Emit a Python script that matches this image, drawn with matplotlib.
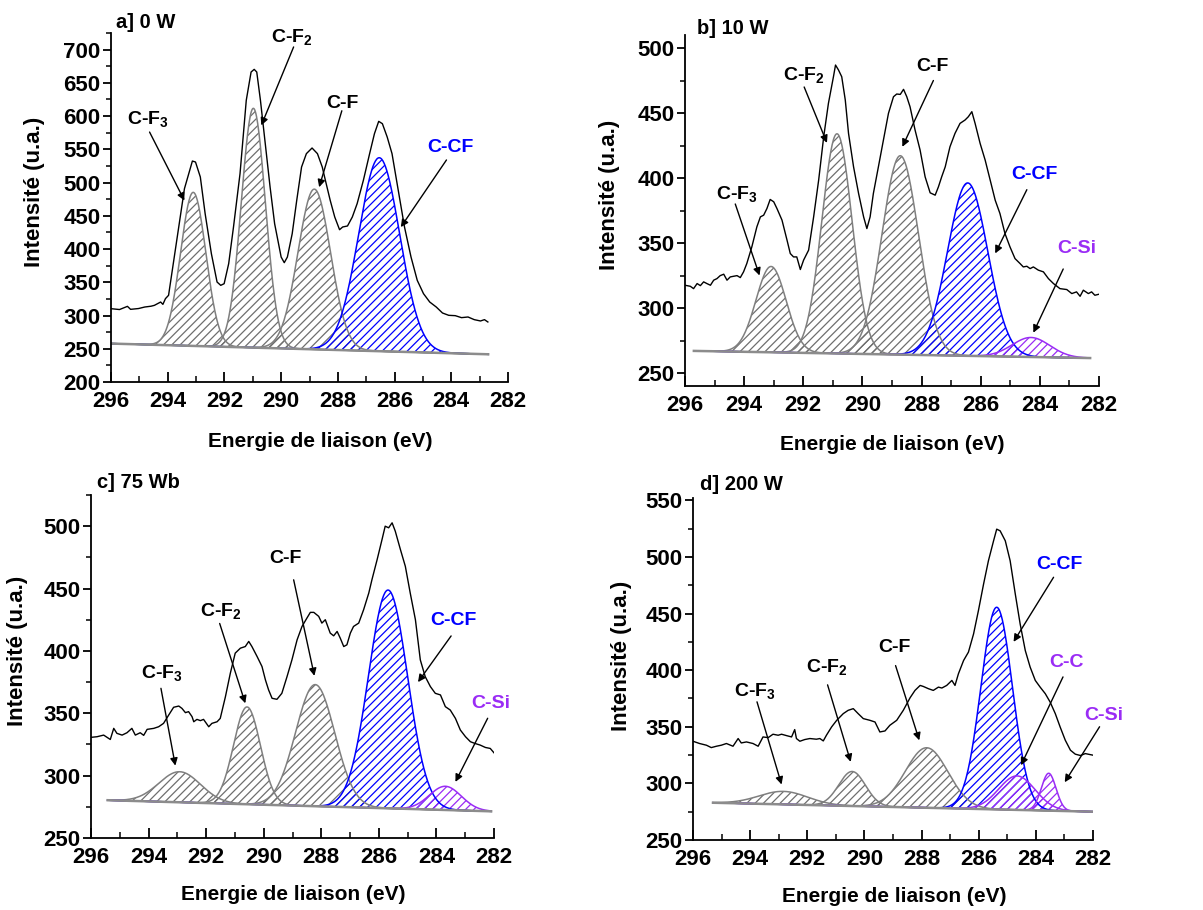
import numpy as np
import matplotlib
matplotlib.use('Agg')
import matplotlib.pyplot as plt
from matplotlib.ticker import MultipleLocator

plt.rcParams['font.family'] = ['Liberation Sans', 'DejaVu Sans']
plt.rcParams['font.weight'] = 'bold'
plt.rcParams['mathtext.fontset'] = 'custom'
plt.rcParams['mathtext.rm'] = 'Liberation Sans:bold'
plt.rcParams['mathtext.bf'] = 'Liberation Sans:bold'
plt.rcParams['mathtext.it'] = 'Liberation Sans:bold'
plt.rcParams['mathtext.default'] = 'rm'
plt.rcParams['hatch.linewidth'] = 0.9

GRAY = '#7f7f7f'
BLUE = '#0000ff'
PURPLE = '#9a2cf5'

# ---------------- a] 0 W ----------------
a_raw_x = [296.00, 295.70, 295.42, 295.31, 295.03, 294.81, 294.59, 294.47, 294.25, 294.17,
           294.08, 293.97, 293.69, 293.41, 293.13, 293.02, 292.85, 292.68, 292.46, 292.26,
           292.13, 292.01, 291.85, 291.68, 291.45, 291.23, 291.06, 290.95, 290.86, 290.73,
           290.56, 290.39, 290.23, 290.00, 289.89, 289.78, 289.61, 289.45, 289.28, 289.11,
           288.91, 288.72, 288.55, 288.44, 288.27, 288.11, 287.94, 287.83, 287.66, 287.49,
           287.32, 287.10, 286.88, 286.71, 286.56, 286.43, 286.26, 286.09, 285.87, 285.65,
           285.42, 285.20, 284.98, 284.76, 284.53, 284.31, 284.09, 283.86, 283.64, 283.41,
           283.19, 282.97, 282.83, 282.71]
a_raw_y = [310.3, 309.0, 313.8, 309.3, 310.5, 312.8, 314.0, 315.3, 320.3, 316.8,
           325.4, 330.4, 410.6, 490.8, 532.4, 530.9, 508.4, 453.2, 393.0, 350.4,
           345.4, 347.9, 378.0, 433.2, 513.4, 623.7, 666.3, 670.3, 666.3, 623.7,
           558.5, 493.3, 438.2, 388.0, 379.5, 388.0, 423.1, 473.3, 523.4, 543.5,
           552.0, 543.5, 523.4, 503.4, 473.3, 448.2, 429.1, 433.2, 434.7, 448.2,
           468.3, 503.4, 543.5, 573.5, 592.1, 588.6, 568.5, 543.5, 488.3, 433.2,
           388.0, 352.9, 332.9, 320.3, 312.8, 303.8, 300.3, 299.8, 296.8, 297.8,
           293.8, 291.8, 293.8, 290.3]
a_base = [296.0, 282.7, 257.8, 241.7]   # x_start, x_end, y_start, y_end
a_names = ['C-F$_3$', 'C-F$_2$', 'C-F', 'C-CF']
a_center = [293.10, 290.98, 288.83, 286.54]
a_height = [231, 360, 241, 291]
a_fwhm = [1.05, 1.0, 1.35, 1.7]
a_color = [GRAY, GRAY, GRAY, BLUE]
a_text = [(294.69, 596), (289.61, 719), (287.83, 619), (284.03, 553)]
a_tail = [(294.64, 576), (289.56, 704), (287.86, 608), (284.17, 534)]
a_head = [(293.41, 473), (290.70, 586), (288.66, 493), (285.78, 433)]

# ---------------- b] 10 W ----------------
b_raw_x = [296.00, 295.82, 295.71, 295.59, 295.48, 295.37, 295.26, 295.14, 295.03, 294.92,
           294.81, 294.69, 294.58, 294.47, 294.36, 294.24, 294.13, 294.02, 293.91, 293.74,
           293.57, 293.45, 293.34, 293.23, 293.12, 293.00, 292.89, 292.72, 292.55, 292.44,
           292.33, 292.22, 292.10, 291.99, 291.82, 291.65, 291.48, 291.31, 291.15, 290.98,
           290.91, 290.81, 290.70, 290.58, 290.47, 290.30, 290.13, 289.96, 289.85, 289.74,
           289.63, 289.46, 289.29, 289.12, 288.95, 288.84, 288.72, 288.61, 288.50, 288.39,
           288.22, 288.05, 287.88, 287.71, 287.54, 287.43, 287.32, 287.20, 287.04, 286.87,
           286.70, 286.53, 286.42, 286.30, 286.19, 286.02, 285.85, 285.68, 285.51, 285.35,
           285.18, 285.01, 284.84, 284.67, 284.56, 284.44, 284.33, 284.22, 284.05, 283.88,
           283.71, 283.54, 283.32, 283.09, 282.92, 282.76, 282.64, 282.53, 282.36, 282.25,
           282.14, 282.00]
b_raw_y = [317.5, 316.7, 314.9, 318.8, 317.2, 320.1, 318.8, 317.5, 321.4, 322.6,
           324.9, 326.0, 321.4, 323.9, 324.4, 324.9, 323.4, 327.8, 334.2, 347.0,
           362.4, 370.1, 371.4, 376.5, 383.5, 381.7, 376.5, 367.6, 352.2, 341.9,
           339.3, 339.3, 329.6, 336.8, 344.5, 370.1, 398.4, 431.7, 457.4, 477.9,
           486.9, 483.1, 477.9, 460.0, 434.3, 408.6, 388.1, 370.1, 361.1, 370.1,
           388.1, 408.6, 429.2, 449.7, 462.5, 464.6, 464.3, 468.2, 462.5, 454.8,
           436.9, 421.5, 400.9, 388.6, 386.8, 393.2, 400.9, 408.6, 424.0, 434.3,
           442.0, 444.6, 447.1, 451.0, 442.0, 426.6, 413.8, 398.4, 382.9, 372.7,
           357.3, 347.0, 338.0, 334.2, 331.6, 332.1, 330.3, 331.6, 329.1, 327.8,
           322.6, 318.8, 314.9, 314.2, 311.1, 312.4, 309.0, 313.7, 311.1, 312.4,
           309.8, 310.6]
b_base = [295.7, 282.3, 267.0, 261.5]
b_names = ['C-F$_3$', 'C-F$_2$', 'C-F', 'C-CF', 'C-Si']
b_center = [293.09, 290.86, 288.72, 286.44, 284.30]
b_height = [66, 169, 153, 133, 15]
b_fwhm = [1.2, 1.2, 1.45, 1.6, 1.5]
b_color = [GRAY, GRAY, GRAY, BLUE, PURPLE]
b_text = [(294.24, 388), (291.99, 479), (287.62, 486), (284.20, 403), (282.76, 346)]
b_tail = [(294.30, 380), (291.97, 470), (287.60, 475), (284.44, 391), (283.21, 330)]
b_head = [(293.48, 325), (291.20, 427), (288.65, 424), (285.51, 342), (284.22, 281)]

# ---------------- c] 75 Wb ----------------
c_raw_x = [296.00, 295.79, 295.56, 295.33, 295.21, 295.10, 294.92, 294.75, 294.58, 294.46,
           294.29, 294.17, 294.05, 293.82, 293.65, 293.48, 293.30, 293.13, 292.95, 292.84,
           292.72, 292.61, 292.49, 292.43, 292.32, 292.20, 292.09, 291.91, 291.80, 291.62,
           291.51, 291.33, 291.16, 290.99, 290.81, 290.64, 290.52, 290.41, 290.23, 290.06,
           289.94, 289.83, 289.71, 289.54, 289.37, 289.19, 289.02, 288.84, 288.67, 288.50,
           288.38, 288.26, 288.09, 287.98, 287.86, 287.69, 287.57, 287.45, 287.34, 287.22,
           287.11, 286.99, 286.88, 286.70, 286.53, 286.35, 286.24, 286.06, 285.89, 285.78,
           285.66, 285.54, 285.43, 285.25, 285.08, 284.91, 284.73, 284.56, 284.39, 284.21,
           284.04, 283.86, 283.69, 283.52, 283.34, 283.17, 282.99, 282.82, 282.66, 282.48,
           282.30, 282.13, 282.00]
c_raw_y = [330.7, 331.2, 332.5, 329.0, 337.9, 333.9, 332.5, 334.4, 337.9, 332.5,
           334.4, 332.3, 337.1, 337.9, 339.2, 341.9, 348.6, 354.8, 355.8, 353.9,
           350.5, 351.3, 347.3, 343.2, 345.1, 344.1, 345.1, 339.2, 341.9, 343.2,
           345.9, 363.3, 382.1, 398.2, 402.2, 403.5, 407.6, 403.5, 395.5, 387.5,
           376.7, 368.7, 362.0, 361.2, 366.0, 379.4, 392.8, 408.9, 419.6, 426.3,
           430.9, 430.9, 427.7, 422.3, 425.0, 414.3, 412.1, 415.6, 410.2, 403.5,
           404.9, 414.3, 419.6, 422.3, 433.0, 446.4, 457.1, 473.2, 489.3, 500.0,
           498.7, 502.7, 496.0, 481.2, 467.8, 446.4, 425.0, 392.8, 379.4, 371.4,
           366.0, 364.7, 355.3, 352.6, 345.9, 336.6, 331.2, 327.2, 325.8, 324.5,
           322.6, 321.8, 318.3]
c_base = [295.42, 282.1, 280.3, 271.4]
c_names = ['C-F$_3$', 'C-F$_2$', 'C-F', 'C-CF', 'C-Si']
c_center = [292.92, 290.58, 288.21, 285.68, 283.69]
c_height = [24.5, 78, 97.5, 175, 19]
c_fwhm = [1.7, 1.1, 1.6, 1.6, 1.3]
c_color = [GRAY, GRAY, GRAY, BLUE, PURPLE]
c_text = [(293.53, 382), (291.48, 432), (289.23, 474), (283.40, 424), (282.13, 358)]
c_tail = [(293.57, 370), (291.53, 422), (288.96, 457), (283.49, 412), (282.22, 346)]
c_head = [(293.07, 308), (290.64, 358), (288.24, 380), (284.64, 375), (283.34, 295)]

# ---------------- d] 200 W ----------------
d_raw_x = [296.00, 295.77, 295.53, 295.36, 295.18, 295.01, 294.83, 294.60, 294.42, 294.31,
           294.13, 293.90, 293.72, 293.55, 293.37, 293.20, 293.02, 292.90, 292.73, 292.55,
           292.44, 292.38, 292.26, 292.09, 291.91, 291.68, 291.56, 291.44, 291.33, 291.15,
           290.97, 290.74, 290.57, 290.39, 290.22, 290.04, 289.81, 289.63, 289.46, 289.28,
           289.11, 288.87, 288.64, 288.40, 288.23, 288.05, 287.94, 287.76, 287.59, 287.41,
           287.29, 287.12, 286.94, 286.83, 286.71, 286.53, 286.36, 286.18, 286.01, 285.83,
           285.66, 285.48, 285.37, 285.25, 285.07, 284.90, 284.72, 284.55, 284.37, 284.20,
           284.02, 283.85, 283.67, 283.50, 283.32, 283.15, 282.97, 282.79, 282.62, 282.44,
           282.27, 282.00]
d_raw_y = [337.2, 335.2, 333.7, 331.6, 332.8, 333.7, 335.2, 332.8, 339.6, 335.7,
           336.6, 335.2, 332.8, 341.0, 340.4, 343.4, 342.5, 343.4, 342.2, 341.0,
           347.5, 339.6, 337.2, 338.7, 339.6, 339.0, 339.6, 337.5, 342.5, 349.8,
           355.7, 361.6, 364.5, 366.0, 361.6, 357.2, 355.7, 354.2, 345.4, 346.3,
           351.3, 355.7, 364.5, 375.7, 382.1, 386.5, 385.6, 383.6, 382.1, 385.0,
           384.2, 386.5, 390.9, 386.5, 396.8, 408.5, 415.9, 432.0, 452.6, 476.0,
           496.6, 514.2, 524.5, 523.0, 514.2, 496.6, 467.2, 440.8, 417.3, 402.7,
           390.9, 385.0, 379.2, 371.8, 361.6, 349.8, 338.1, 329.3, 325.8, 324.6,
           326.3, 324.9]
d_base = [295.3, 282.0, 282.9, 275.0]
d_names = ['C-F$_3$', 'C-F$_2$', 'C-F', 'C-CF', 'C-C', 'C-Si']
d_center = [292.84, 290.43, 287.82, 285.37, 284.66, 283.55]
d_height = [11.5, 30.5, 53, 178.5, 30, 33]
d_fwhm = [2.0, 1.1, 1.75, 1.3, 1.5, 0.6]
d_color = [GRAY, GRAY, GRAY, BLUE, PURPLE, PURPLE]
d_text = [(293.84, 382), (291.33, 403), (288.96, 420), (283.17, 493), (282.93, 407), (281.63, 360)]
d_tail = [(293.76, 372), (291.29, 387), (288.91, 404), (283.38, 482), (283.05, 394), (281.77, 350)]
d_head = [(292.90, 299), (290.48, 319), (288.08, 338), (284.78, 425), (284.52, 316), (282.99, 301)]

W, H = 1203, 910
fig = plt.figure(figsize=(W / 100, H / 100), dpi=100)


def panel(box, title, title_xy, xlab_xy, ylab_xy, xlim, ylim, yticks, raw_x, raw_y, base,
          names, center, height, fwhm, color, text, tail, head):
    l, t, r, b = box
    ax = fig.add_axes([l / W, 1 - b / H, (r - l) / W, (b - t) / H])
    xs = np.linspace(base[0], base[1], 600)
    bl = np.interp(xs, [base[1], base[0]], [base[3], base[2]])
    # fitted components on the linear background
    order = [i for i in range(len(names)) if color[i] == GRAY] + \
            [i for i in range(len(names)) if color[i] != GRAY]
    for i in order:
        g = height[i] * np.exp(-4 * np.log(2) * (xs - center[i]) ** 2 / fwhm[i] ** 2)
        hc = '#6e6e6e' if color[i] == GRAY else color[i]
        ax.fill_between(xs, bl, bl + g, facecolor='none', edgecolor=hc,
                        hatch='////', linewidth=0)
        ax.plot(xs, bl + g, color=color[i], lw=1.1)
    ax.plot(xs, bl, color='#8c8c8c', lw=1.8)
    ax.plot(raw_x, raw_y, color='black', lw=1.0)

    for i in range(len(names)):
        tc = 'black' if color[i] == GRAY else color[i]
        ax.text(text[i][0], text[i][1], names[i], color=tc, fontsize=14,
                fontweight='bold', ha='center', va='center', clip_on=False)
        ax.annotate('', xy=head[i], xytext=tail[i], annotation_clip=False,
                    arrowprops=dict(arrowstyle='-|>', color='black', lw=1.0,
                                    mutation_scale=11, shrinkA=0, shrinkB=0))

    ax.set_xlim(*xlim)
    ax.set_ylim(*ylim)
    ax.set_xticks([296, 294, 292, 290, 288, 286, 284, 282])
    ax.xaxis.set_minor_locator(MultipleLocator(1))
    ax.set_yticks(yticks)
    ax.yaxis.set_minor_locator(MultipleLocator(25))
    for s in ['top', 'right']:
        ax.spines[s].set_visible(False)
    for s in ['left', 'bottom']:
        ax.spines[s].set_linewidth(1.3)
    ax.tick_params(axis='x', which='major', direction='in', length=7, width=1.3,
                   labelsize=16, pad=6.5)
    ax.tick_params(axis='x', which='minor', direction='in', length=4, width=1.1)
    ax.tick_params(axis='y', which='major', direction='out', length=5.5, width=1.3,
                   labelsize=16, pad=2)
    ax.tick_params(axis='y', which='minor', direction='out', length=3.5, width=1.1)
    for lab in ax.get_xticklabels() + ax.get_yticklabels():
        lab.set_fontweight('bold')
    ax.set_xlabel('Energie de liaison (eV)', fontsize=15, fontweight='bold', va='center')
    ax.set_ylabel('Intensité (u.a.)', fontsize=16, fontweight='bold', va='center')
    ax.xaxis.set_label_coords((xlab_xy[0] - l) / (r - l), (b - xlab_xy[1]) / (b - t))
    ax.yaxis.set_label_coords((ylab_xy[0] - l) / (r - l), (b - ylab_xy[1]) / (b - t))
    fig.text(title_xy[0] / W, 1 - title_xy[1] / H, title, fontsize=14.5,
             fontweight='bold', ha='left', va='center')
    return ax


panel((111, 33, 508, 382), 'a] 0 W', (116, 23), (320, 441), (34, 192),
      (296, 282.7), (200, 725),
      [200, 250, 300, 350, 400, 450, 500, 550, 600, 650, 700],
      a_raw_x, a_raw_y, a_base, a_names, a_center, a_height, a_fwhm, a_color,
      a_text, a_tail, a_head)
panel((685, 35, 1099, 386), 'b] 10 W', (697, 29), (892, 445), (610, 195),
      (296, 282), (240, 510),
      [250, 300, 350, 400, 450, 500],
      b_raw_x, b_raw_y, b_base, b_names, b_center, b_height, b_fwhm, b_color,
      b_text, b_tail, b_head)
panel((91, 495, 494, 838), 'c] 75 Wb', (97, 482), (293, 895), (18, 651),
      (296, 282), (250, 525),
      [250, 300, 350, 400, 450, 500],
      c_raw_x, c_raw_y, c_base, c_names, c_center, c_height, c_fwhm, c_color,
      c_text, c_tail, c_head)
panel((693, 498, 1093, 840), 'd] 200 W', (700, 485), (894, 897), (622, 656),
      (296, 282), (250, 552),
      [250, 300, 350, 400, 450, 500, 550],
      d_raw_x, d_raw_y, d_base, d_names, d_center, d_height, d_fwhm, d_color,
      d_text, d_tail, d_head)

fig.savefig('out.png', dpi=100)
